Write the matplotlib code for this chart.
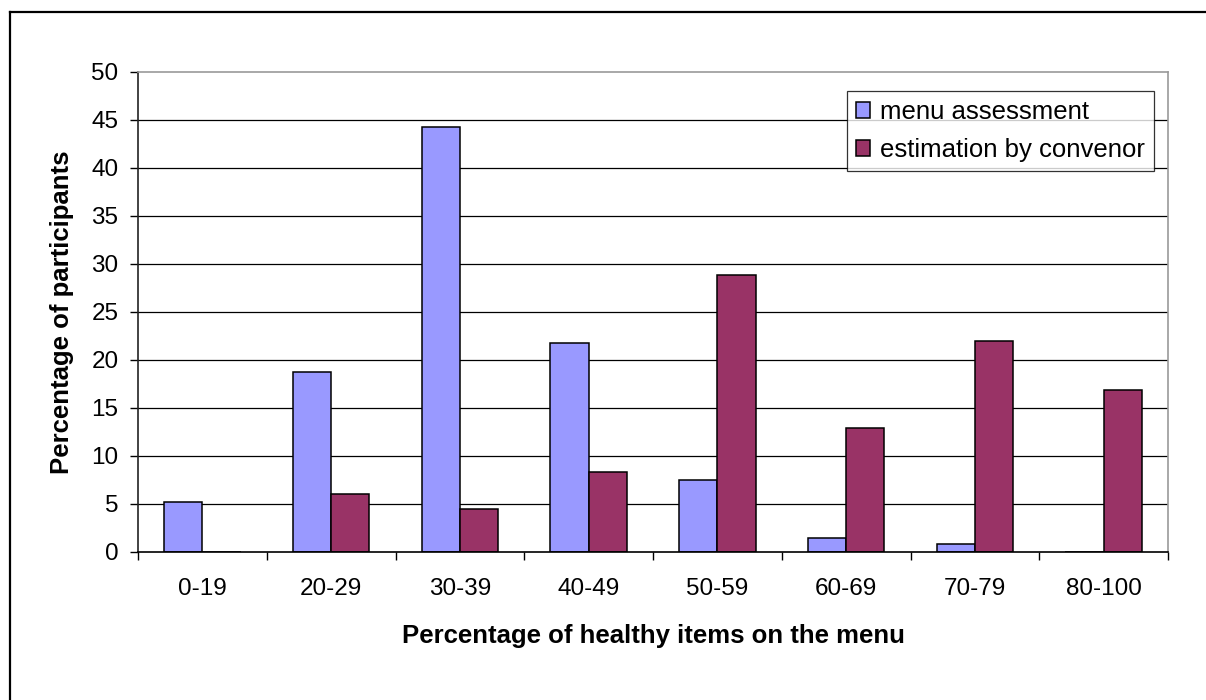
import matplotlib
matplotlib.use("Agg")
import matplotlib.pyplot as plt
import numpy as np
from matplotlib.lines import Line2D

categories = ["0-19", "20-29", "30-39", "40-49", "50-59", "60-69", "70-79", "80-100"]
menu_assessment = [5.2, 18.7, 44.3, 21.8, 7.5, 1.5, 0.8, 0.0]
estimation_by_convenor = [0.0, 6.0, 4.5, 8.3, 28.9, 12.9, 22.0, 16.9]
series_names = ["menu assessment", "estimation by convenor"]
y_ticks = [0, 5, 10, 15, 20, 25, 30, 35, 40, 45, 50]

W, H = 1206, 700
plt.rcParams['font.family'] = ['Liberation Sans', 'DejaVu Sans']
fig = plt.figure(figsize=(W / 100, H / 100), dpi=100)

left, right, top, bottom = 138, 1168, 72, 552
ax = fig.add_axes([left / W, (H - bottom) / H, (right - left) / W, (bottom - top) / H])

x = np.arange(len(categories))
bw = 0.297
ax.bar(x - bw / 2, menu_assessment, bw, color="#9999FF", edgecolor="black",
       linewidth=1.1, label=series_names[0], zorder=3)
ax.bar(x + bw / 2, estimation_by_convenor, bw, color="#993366", edgecolor="black",
       linewidth=1.1, label=series_names[1], zorder=3)

ax.set_xlim(-0.5, len(categories) - 0.5)
ax.set_ylim(0, 50)
ax.set_yticks(y_ticks)
ax.set_yticklabels([str(v) for v in y_ticks], fontsize=17.5)
ax.set_xticks(x)
ax.set_xticklabels(categories, fontsize=17.5)
ax.set_xticks(np.arange(len(categories) + 1) - 0.5, minor=True)
ax.tick_params(axis="x", which="major", length=0, pad=19)
ax.tick_params(axis="x", which="minor", length=6, width=1, direction="out", color="black")
ax.tick_params(axis="y", which="major", length=6, width=1, direction="out", pad=8, color="black")

for v in y_ticks[1:-1]:
    ax.axhline(v, color="black", linewidth=0.9, zorder=1)

ax.spines["left"].set_color("#222222")
ax.spines["bottom"].set_color("black")
ax.spines["top"].set_color("#999999")
ax.spines["right"].set_color("#999999")
for s in ax.spines.values():
    s.set_linewidth(1.2)
ax.spines["bottom"].set_zorder(4)

leg = ax.legend(loc="upper right", bbox_to_anchor=((1154 - left) / (right - left), (bottom - 91) / (bottom - top)),
                fontsize=18.5, frameon=True, fancybox=False, shadow=False,
                handlelength=0.55, handleheight=0.55, handletextpad=0.4,
                labelspacing=0.55, borderpad=0.35, borderaxespad=0)
leg.get_frame().set_edgecolor("black")
leg.get_frame().set_linewidth(0.9)

fig.text((left + right) / 2 / W, 1 - 636 / H, "Percentage of healthy items on the menu",
         fontsize=18.5, fontweight="bold", ha="center", va="center")
fig.text(62 / W, 1 - (top + bottom) / 2 / H, "Percentage of participants",
         fontsize=18.5, fontweight="bold", ha="center", va="center", rotation=90)

# outer chart border (left and top visible)
fig.add_artist(Line2D([9.5 / W, 9.5 / W], [0, 1 - 12 / H], transform=fig.transFigure,
                      color="black", linewidth=1.6))
fig.add_artist(Line2D([9.5 / W, 1], [1 - 12 / H, 1 - 12 / H], transform=fig.transFigure,
                      color="black", linewidth=1.6))

fig.savefig("out.png", dpi=100)
